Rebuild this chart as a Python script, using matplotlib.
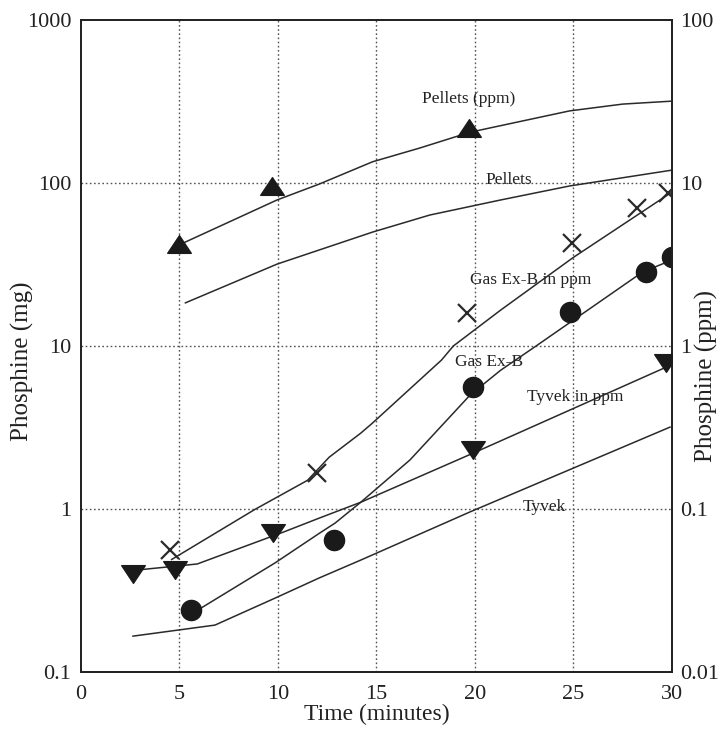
import matplotlib
matplotlib.use("Agg")
import matplotlib.pyplot as plt
from matplotlib.path import Path
from matplotlib.ticker import FixedLocator, FixedFormatter, NullLocator

plt.rcParams['font.family'] = ['Liberation Serif', 'DejaVu Serif']

# ---- data ----
# Pellets, ppm (right axis)
pel_ppm_pts_t = [5.0, 9.7, 19.7]
pel_ppm_pts_v = [4.2, 9.6, 21.8]
pel_ppm_line_t = [5.2, 9.95, 12.1, 14.8, 17.2, 19.75, 24.8, 27.5, 30.0]
pel_ppm_line_v = [4.29, 7.87, 9.86, 13.5, 16.4, 20.5, 27.7, 30.5, 31.8]
# Pellets, mg (left axis)
pel_mg_line_t = [5.3, 9.95, 14.8, 17.7, 21.3, 24.8, 30.0]
pel_mg_line_v = [18.4, 31.8, 50.0, 63.6, 78.7, 95.9, 120.0]
# Gas Ex-B in ppm (right axis), crosses
gas_ppm_pts_t = [4.5, 12.0, 19.6, 24.9, 28.2, 29.8]
gas_ppm_pts_v = [0.056, 0.166, 1.59, 4.29, 7.0, 8.7]
gas_ppm_line_t = [4.6, 8.8, 11.5, 12.6, 14.2, 14.8, 18.3, 18.9, 21.3, 25.0, 30.0]
gas_ppm_line_v = [0.049, 0.099, 0.150, 0.208, 0.292, 0.337, 0.82, 1.0, 1.66, 3.5, 8.8]
# Gas Ex-B, mg (left axis), circles
gas_mg_pts_t = [5.6, 12.85, 19.9, 24.8, 28.7, 30.0]
gas_mg_pts_v = [0.24, 0.65, 5.6, 16.1, 28.4, 35.0]
gas_mg_line_t = [6.1, 9.85, 12.1, 12.9, 14.2, 16.7, 19.75, 21.3, 23.1, 28.5, 30.0]
gas_mg_line_v = [0.247, 0.467, 0.71, 0.82, 1.10, 2.0, 5.0, 7.1, 10.0, 28.4, 33.7]
# Tyvek in ppm (right axis), down triangles
tyv_ppm_pts_t = [2.66, 4.77, 9.77, 19.9, 29.7]
tyv_ppm_pts_v = [0.040, 0.042, 0.071, 0.23, 0.79]
tyv_ppm_line_t = [2.64, 5.9, 10.25, 12.1, 14.2, 19.9, 29.9]
tyv_ppm_line_v = [0.042, 0.046, 0.072, 0.088, 0.110, 0.22, 0.76]
# Tyvek, mg (left axis)
tyv_mg_line_t = [2.64, 6.8, 9.85, 12.1, 14.2, 19.75, 29.9]
tyv_mg_line_v = [0.166, 0.194, 0.284, 0.378, 0.486, 0.96, 3.18]

# labels: (text, t, value on left axis in mg)
labels = [("Pellets (ppm)", 19.7, 330.0),
          ("Pellets", 21.7, 104.0),
          ("Gas Ex-B in ppm", 22.8, 25.4),
          ("Gas Ex-B", 20.7, 8.0),
          ("Tyvek in ppm", 25.1, 4.86),
          ("Tyvek", 23.5, 1.03)]

left_ticks = [0.1, 1, 10, 100, 1000]
left_ticklabels = ["0.1", "1", "10", "100", "1000"]
right_ticks = [0.01, 0.1, 1, 10, 100]
right_ticklabels = ["0.01", "0.1", "1", "10", "100"]
x_ticks = [0, 5, 10, 15, 20, 25, 30]

# ---- figure ----
fig = plt.figure(figsize=(7.2, 7.31), dpi=100)
ax = fig.add_axes([0.1125, 0.0807, 0.8208, 0.8919])
ax.set_yscale('log')
ax.set_xlim(0, 30)
ax.set_ylim(0.1, 1000)
ax2 = ax.twinx()
ax2.set_yscale('log')
ax2.set_ylim(0.01, 100)

lc = '#2a2a2a'
tri_up = Path([(0, 0.75), (-1, -0.75), (1, -0.75), (0, 0.75)],
              [Path.MOVETO, Path.LINETO, Path.LINETO, Path.CLOSEPOLY])
tri_dn = Path([(0, -0.75), (-1, 0.75), (1, 0.75), (0, -0.75)],
              [Path.MOVETO, Path.LINETO, Path.LINETO, Path.CLOSEPOLY])

# grid
for xv in [5, 10, 15, 20, 25]:
    ax.axvline(xv, color='#555555', lw=1.0, ls=(0, (1.2, 1.8)), zorder=1)
for yv in [1, 10, 100]:
    ax.axhline(yv, color='#555555', lw=1.0, ls=(0, (1.2, 1.8)), zorder=1)

# lines
ax2.plot(pel_ppm_line_t, pel_ppm_line_v, color=lc, lw=1.1, zorder=3)
ax.plot(pel_mg_line_t, pel_mg_line_v, color=lc, lw=1.1, zorder=3)
ax2.plot(gas_ppm_line_t, gas_ppm_line_v, color=lc, lw=1.1, zorder=3)
ax.plot(gas_mg_line_t, gas_mg_line_v, color=lc, lw=1.1, zorder=3)
ax2.plot(tyv_ppm_line_t, tyv_ppm_line_v, color=lc, lw=1.1, zorder=3)
ax.plot(tyv_mg_line_t, tyv_mg_line_v, color=lc, lw=1.1, zorder=3)

# markers
ax2.plot(pel_ppm_pts_t, pel_ppm_pts_v, ls='none', marker=tri_up, ms=17,
         color='#1a1a1a', zorder=4)
ax2.plot(gas_ppm_pts_t, gas_ppm_pts_v, ls='none', marker='x', ms=13, mew=1.6,
         color='#2a2a2a', zorder=4)
ax.plot(gas_mg_pts_t, gas_mg_pts_v, ls='none', marker='o', ms=14.5,
        color='#1a1a1a', zorder=4)
ax2.plot(tyv_ppm_pts_t, tyv_ppm_pts_v, ls='none', marker=tri_dn, ms=17,
         color='#1a1a1a', zorder=4)

for txt, tx, ty in labels:
    ax.text(tx, ty, txt, ha='center', va='center', fontsize=12.5,
            color='#222222', zorder=5)

# ticks
ax.xaxis.set_major_locator(FixedLocator(x_ticks))
ax.set_xticklabels([str(v) for v in x_ticks])
ax.yaxis.set_major_locator(FixedLocator(left_ticks))
ax.yaxis.set_major_formatter(FixedFormatter(left_ticklabels))
ax.yaxis.set_minor_locator(NullLocator())
ax2.yaxis.set_major_locator(FixedLocator(right_ticks))
ax2.yaxis.set_major_formatter(FixedFormatter(right_ticklabels))
ax2.yaxis.set_minor_locator(NullLocator())
ax.tick_params(axis='both', which='both', length=0, labelsize=16,
               colors='#222222')
ax.tick_params(axis='x', pad=9)
ax.tick_params(axis='y', pad=7)
ax2.tick_params(axis='y', which='both', length=0, labelsize=16,
                colors='#222222', pad=6)

ax.set_xlabel("Time (minutes)", fontsize=17, color='#222222', labelpad=0)
fig.text(22 / 720, 1 - 361 / 731, "Phosphine (mg)", rotation=90,
         ha='center', va='center', fontsize=18, color='#222222')
fig.text(706 / 720, 1 - 376 / 731, "Phosphine (ppm)", rotation=90,
         ha='center', va='center', fontsize=18, color='#222222')

for a in (ax, ax2):
    for s in a.spines.values():
        s.set_linewidth(1.3)
        s.set_color('#222222')

fig.savefig("out.png", dpi=100)
